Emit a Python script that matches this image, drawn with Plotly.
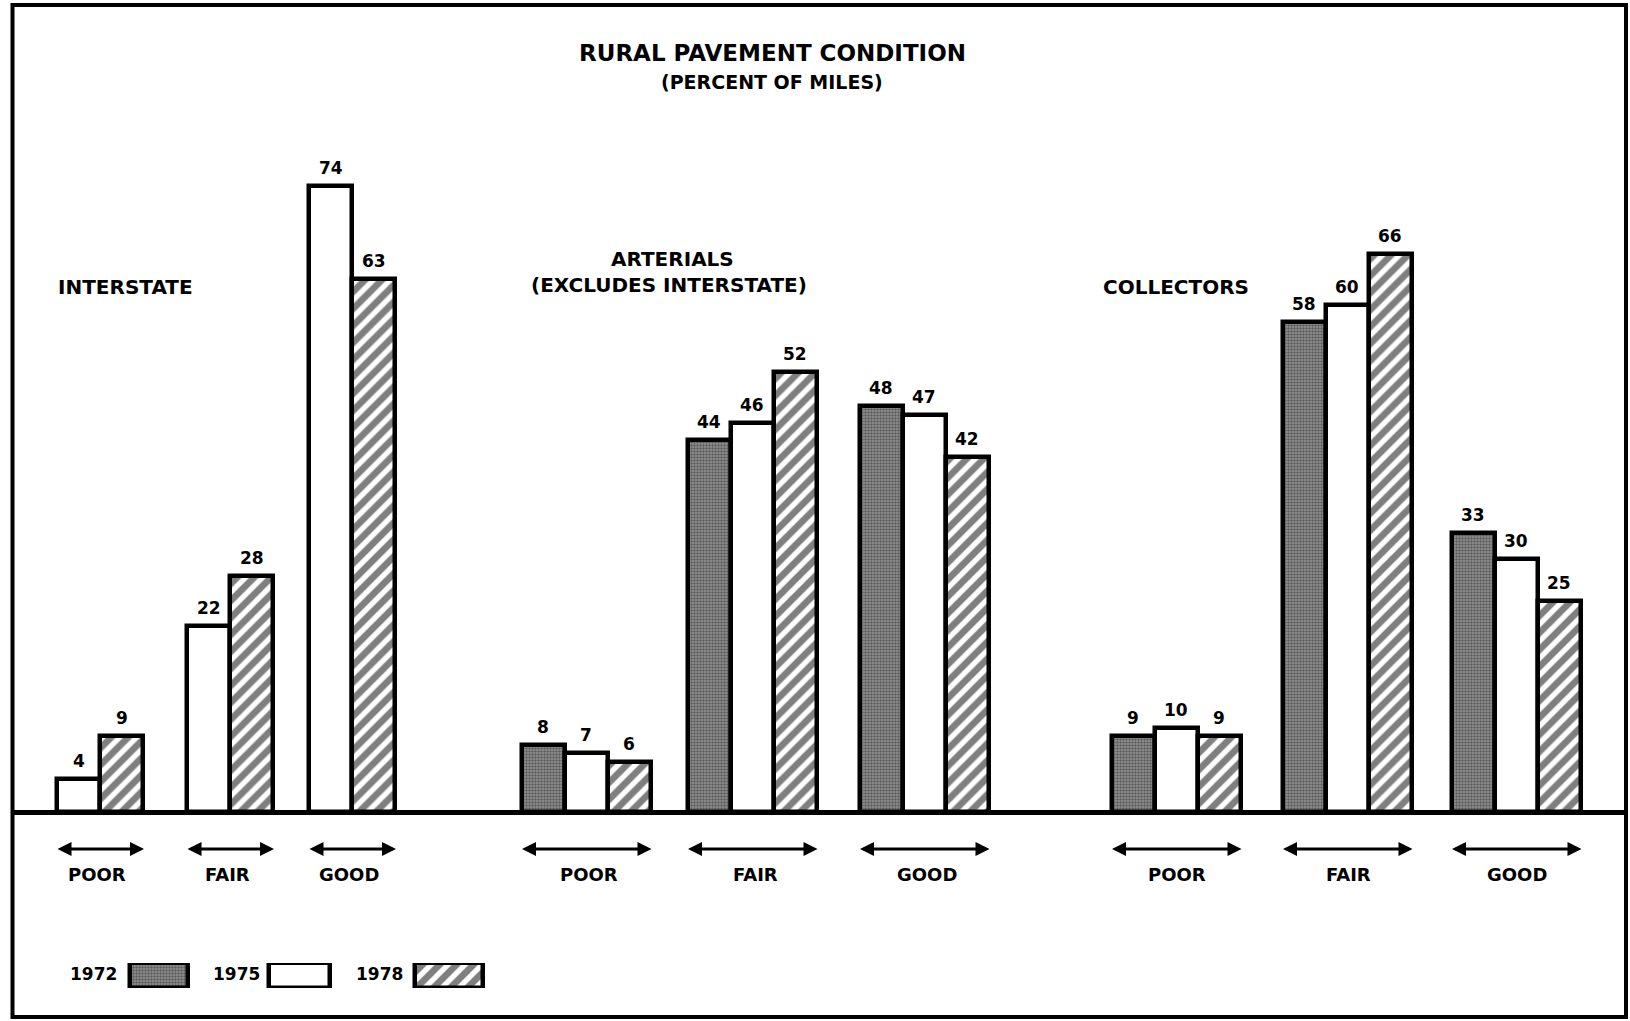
import plotly.graph_objects as go

# ---------------- data ----------------
YEARS = ["1972", "1975", "1978"]
CLASSES = ["INTERSTATE", "ARTERIALS", "COLLECTORS"]
CLASS_SUBTITLES = ["", "(EXCLUDES INTERSTATE)", ""]
CONDITIONS = ["POOR", "FAIR", "GOOD"]

# percent of miles, by condition (POOR, FAIR, GOOD); None = not shown
interstate_1972 = [None, None, None]
interstate_1975 = [4, 22, 74]
interstate_1978 = [9, 28, 63]

arterials_1972 = [8, 44, 48]
arterials_1975 = [7, 46, 47]
arterials_1978 = [6, 52, 42]

collectors_1972 = [9, 58, 33]
collectors_1975 = [10, 60, 30]
collectors_1978 = [9, 66, 25]

VALUES = {
    "INTERSTATE": [interstate_1972, interstate_1975, interstate_1978],
    "ARTERIALS": [arterials_1972, arterials_1975, arterials_1978],
    "COLLECTORS": [collectors_1972, collectors_1975, collectors_1978],
}

TITLE = "RURAL PAVEMENT CONDITION"
SUBTITLE = "(PERCENT OF MILES)"

# ---------------- layout (pixels) ----------------
W, H = 1630, 1021
BASE_PX = 812.4          # pixel row of the zero line
PX_PER_UNIT = 8.46       # vertical scale
BAR_W = 43
CENTERS = {              # x centre of each condition group (px)
    "INTERSTATE": [100, 230, 352],
    "ARTERIALS": [586, 752, 924],
    "COLLECTORS": [1176, 1347, 1516],
}
COND_LABEL_SHIFT = {"INTERSTATE": -3, "ARTERIALS": 3, "COLLECTORS": 1}
CLASS_LABEL_POS = {"INTERSTATE": (125, 287), "ARTERIALS": (672, 259), "COLLECTORS": (1176, 287)}
FONT = "DejaVu Sans"

def yv(py):
    """pixel row -> data value"""
    return (BASE_PX - py) / PX_PER_UNIT

def yp(py):
    return 1 - py / H

def bold(size):
    return dict(family=FONT, size=size, color="black", weight="bold")

STYLES = {
    "1972": dict(color="#858585", line=dict(color="black", width=4.5),
                 pattern=dict(shape=".", fgcolor="#222222", bgcolor="#959595", size=3, solidity=0.5)),
    "1975": dict(color="white", line=dict(color="black", width=4.5)),
    "1978": dict(color="white", line=dict(color="black", width=4.5),
                 pattern=dict(shape="/", fgcolor="black", bgcolor="white", size=12, solidity=0.56)),
}

fig = go.Figure()
annotations = []
shapes = []

# build bar positions per year
xs = {y: [] for y in YEARS}
ys = {y: [] for y in YEARS}
for cls in CLASSES:
    series = VALUES[cls]
    for ci, cond in enumerate(CONDITIONS):
        present = [yi for yi in range(len(YEARS)) if series[yi][ci] is not None]
        n = len(present)
        for k, yi in enumerate(present):
            xs[YEARS[yi]].append(CENTERS[cls][ci] + (k - (n - 1) / 2) * BAR_W)
            ys[YEARS[yi]].append(series[yi][ci])

for yr in YEARS:
    fig.add_trace(go.Bar(
        x=xs[yr], y=ys[yr], width=BAR_W, name=yr, marker=STYLES[yr],
        cliponaxis=False, showlegend=False, hoverinfo="x+y",
    ))
    for x, v in zip(xs[yr], ys[yr]):
        annotations.append(dict(x=x, y=v, xref="x", yref="y", text=str(v), showarrow=False,
                                xanchor="center", yanchor="bottom", yshift=6, font=bold(17)))

# legend key bars on their own small axis
KEY_X = [159, 299.5, 449]
KEY_W = [58, 61, 68]
KEY_TEXT_X = [93, 236, 379]
for yr, kx, kw in zip(YEARS, KEY_X, KEY_W):
    fig.add_trace(go.Bar(x=[kx], y=[1], width=kw, marker=STYLES[yr], xaxis="x2", yaxis="y2",
                         showlegend=False, hoverinfo="name", name=yr))

def label(x, py, text, size, xref="x"):
    annotations.append(dict(x=x, y=yp(py), xref=xref, yref="paper", text=text, showarrow=False,
                            xanchor="center", yanchor="middle", font=bold(size)))

# title
label(772 / W, 53, TITLE, 23, xref="paper")
label(772 / W, 82, SUBTITLE, 19, xref="paper")

# class labels
for cls, sub in zip(CLASSES, CLASS_SUBTITLES):
    cx, cy = CLASS_LABEL_POS[cls]
    label(cx, cy, cls, 20)
    if sub:
        label(cx - 3, cy + 26, sub, 20)

# condition arrows and labels
ARROW_PY = 849
LABEL_PY = 874
for cls in CLASSES:
    series = VALUES[cls]
    for ci, cond in enumerate(CONDITIONS):
        n = sum(1 for s in series if s[ci] is not None)
        c = CENTERS[cls][ci]
        half = n * BAR_W / 2 + 1
        annotations.append(dict(x=c + half, y=yv(ARROW_PY), ax=c - half, ay=yv(ARROW_PY),
                                xref="x", yref="y", axref="x", ayref="y", text="",
                                showarrow=True, arrowhead=2, arrowside="end+start",
                                arrowsize=1.0, arrowwidth=2.8, arrowcolor="black"))
        label(c + COND_LABEL_SHIFT[cls], LABEL_PY, cond, 18)

# legend texts
for yr, tx in zip(YEARS, KEY_TEXT_X):
    label(tx, 974, yr, 17)

# frame and zero line
shapes.append(dict(type="rect", xref="paper", yref="paper", x0=12.5 / W, x1=1626 / W,
                   y0=yp(1017), y1=yp(5), line=dict(color="black", width=4)))
shapes.append(dict(type="line", xref="paper", yref="y", x0=12.5 / W, x1=1626 / W, y0=0, y1=0,
                   line=dict(color="black", width=5), layer="above"))

fig.update_layout(
    width=W, height=H, margin=dict(l=0, r=0, t=0, b=0, pad=0),
    paper_bgcolor="white", plot_bgcolor="white",
    barmode="overlay", bargap=0,
    xaxis=dict(range=[0, W], visible=False, fixedrange=True),
    yaxis=dict(range=[yv(H), yv(0)], visible=False, fixedrange=True),
    xaxis2=dict(range=[0, W], visible=False, anchor="y2", domain=[0, 1], fixedrange=True),
    yaxis2=dict(range=[0, 1], visible=False, anchor="x2", domain=[yp(988), yp(963)], fixedrange=True),
    annotations=annotations, shapes=shapes,
    font=dict(family=FONT, color="black"),
)

fig.write_html("out.html", config={"displayModeBar": False},
               post_script="document.body.style.margin='0';document.body.style.overflow='hidden';")
